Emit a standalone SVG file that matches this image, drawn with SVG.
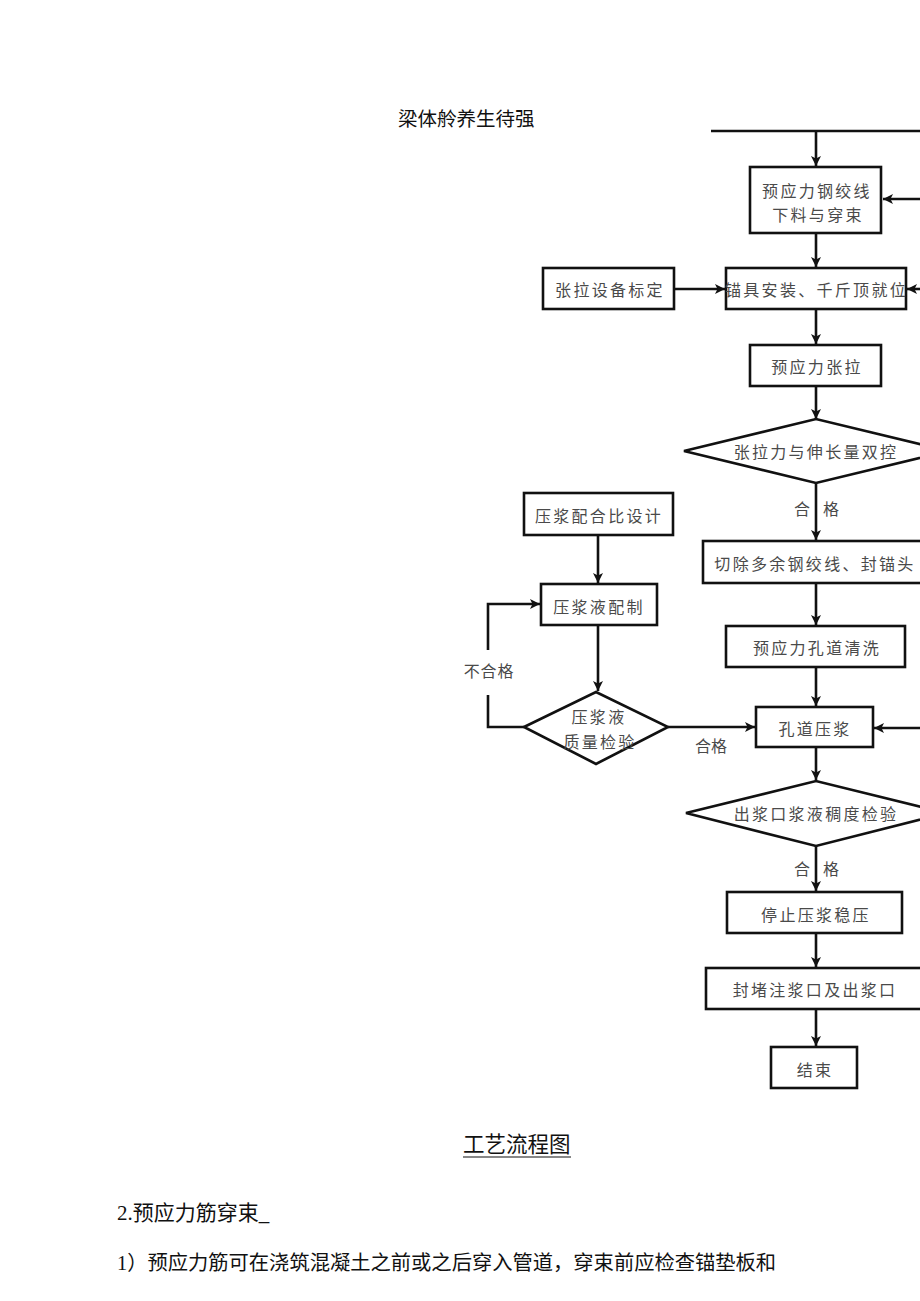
<svg xmlns="http://www.w3.org/2000/svg" width="920" height="1301" viewBox="0 0 920 1301">
<defs>
<marker id="ah" markerUnits="userSpaceOnUse" markerWidth="11" markerHeight="10" refX="10" refY="5" orient="auto">
<path d="M0,0 L10,5 L0,10 L2.5,5 z" fill="#111"/>
</marker>
<style>
.bx{fill:#fff;stroke:#111;stroke-width:2.6}
.ft{font-family:"Noto Sans CJK SC","Liberation Sans",sans-serif;font-size:16px;fill:#4a4a4a;text-anchor:middle;dominant-baseline:central;letter-spacing:2.3px}
.lb{font-family:"Noto Sans CJK SC","Liberation Sans",sans-serif;font-size:16px;fill:#4a4a4a;text-anchor:middle;dominant-baseline:central}
.cn{fill:none;stroke:#111;stroke-width:2.6}
.ar{marker-end:url(#ah)}
.body{font-family:"Liberation Serif","Noto Sans CJK SC",serif;fill:#111}
</style>
</defs>
<rect width="920" height="1301" fill="#fff"/>

<text class="body" x="398" y="126" font-size="19.5">梁体舲养生待强</text>

<g id="connectors">
<path class="cn" d="M711,131 H920" stroke-width="3"/>
<path class="cn ar" d="M816,131 V166"/>
<path class="cn ar" d="M920,199 H883"/>
<path class="cn ar" d="M816,233 V267"/>
<path class="cn ar" d="M674,289 H725"/>
<path class="cn ar" d="M920,289 H907"/>
<path class="cn ar" d="M816,309 V344"/>
<path class="cn ar" d="M816,386 V419"/>
<path class="cn ar" d="M816,483 V540"/>
<path class="cn ar" d="M816,583 V625"/>
<path class="cn ar" d="M816,667 V706"/>
<path class="cn ar" d="M598,535 V583"/>
<path class="cn ar" d="M598,625 V691"/>
<path class="cn ar" d="M668,727 H755"/>
<path class="cn" d="M524,727 H488 V695"/>
<path class="cn ar" d="M488,650 V604 H540"/>
<path class="cn ar" d="M920,728 H874"/>
<path class="cn ar" d="M816,747 V780"/>
<path class="cn ar" d="M816,846 V891"/>
<path class="cn ar" d="M816,933 V967"/>
<path class="cn ar" d="M816,1009 V1046"/>
<text class="lb" x="802" y="508">合</text>
<text class="lb" x="831" y="508">格</text>
<text class="lb" x="802" y="868">合</text>
<text class="lb" x="831" y="868">格</text>
<text class="lb" x="711" y="745">合格</text>
<text class="lb" x="489" y="670" letter-spacing="0.8">不合格</text>
</g>

<g id="n1"><rect class="bx" x="750" y="167" width="131" height="66"/>
<text class="ft" x="817" y="190">预应力钢绞线</text>
<text class="ft" x="818" y="214">下料与穿束</text></g>

<g id="n2"><rect class="bx" x="726" y="268" width="180" height="41"/>
<text class="ft" x="816.5" y="289" letter-spacing="0.9">锚具安装、千斤顶就位</text></g>

<g id="n3"><rect class="bx" x="543" y="268" width="131" height="41"/>
<text class="ft" x="610" y="289">张拉设备标定</text></g>

<g id="n4"><rect class="bx" x="750" y="345" width="131" height="41"/>
<text class="ft" x="817" y="366">预应力张拉</text></g>

<g id="n5"><path class="bx" d="M684,451 L816,419 L948,451 L816,483 Z"/>
<text class="ft" x="816" y="451">张拉力与伸长量双控</text></g>

<g id="n6"><rect class="bx" x="703" y="541" width="230" height="42"/>
<text class="ft" x="815" y="563">切除多余钢绞线、封锚头</text></g>

<g id="n7"><rect class="bx" x="726" y="626" width="179" height="41"/>
<text class="ft" x="817" y="647">预应力孔道清洗</text></g>

<g id="n8"><rect class="bx" x="756" y="707" width="117" height="40"/>
<text class="ft" x="815" y="728">孔道压浆</text></g>

<g id="n9"><rect class="bx" x="524" y="493" width="149" height="42"/>
<text class="ft" x="599" y="515">压浆配合比设计</text></g>

<g id="n10"><rect class="bx" x="541" y="584" width="116" height="41"/>
<text class="ft" x="599" y="606">压浆液配制</text></g>

<g id="n11"><path class="bx" d="M524,727 L596,692 L668,727 L596,764 Z"/>
<text class="ft" x="599" y="716">压浆液</text>
<text class="ft" x="600" y="741">质量检验</text></g>

<g id="n12"><path class="bx" d="M686,813 L816,781 L946,813 L816,846 Z"/>
<text class="ft" x="816" y="813">出浆口浆液稠度检验</text></g>

<g id="n13"><rect class="bx" x="727" y="892" width="175" height="41"/>
<text class="ft" x="816" y="914">停止压浆稳压</text></g>

<g id="n14"><rect class="bx" x="706" y="968" width="220" height="41"/>
<text class="ft" x="815" y="989">封堵注浆口及出浆口</text></g>

<g id="n15"><rect class="bx" x="771" y="1047" width="86" height="41"/>
<text class="ft" x="815" y="1069">结束</text></g>

<text class="body" x="463" y="1152" font-size="21.5">工艺流程图</text>
<line x1="463" y1="1157" x2="571" y2="1157" stroke="#111" stroke-width="1.2"/>
<text class="body" x="117" y="1220" font-size="21">2.预应力筋穿束_</text>
<text class="body" x="117" y="1270" font-size="20.3">1）预应力筋可在浇筑混凝土之前或之后穿入管道，穿束前应检查锚垫板和</text>
</svg>
